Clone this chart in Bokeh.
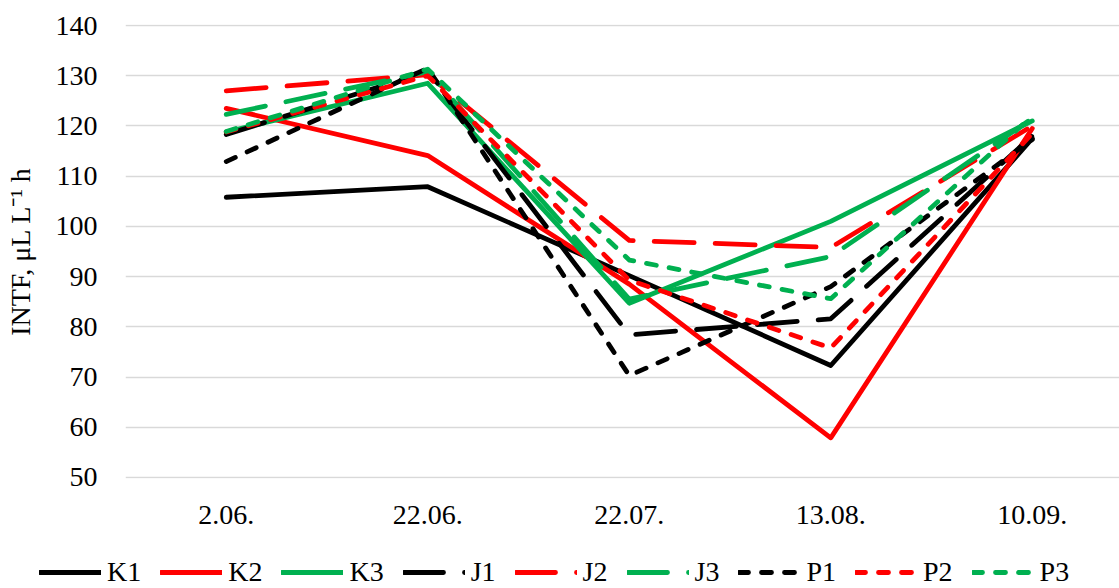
from bokeh.plotting import figure
from bokeh.models import Range1d, FixedTicker, Legend, LegendItem
from bokeh.embed import file_html
from bokeh.resources import INLINE

# ---- data ----
dates = ["2.06.", "22.06.", "22.07.", "13.08.", "10.09."]
names = ["K1", "K2", "K3", "J1", "J2", "J3", "P1", "P2", "P3"]
K1 = [105.8, 107.9, 90.2, 72.3, 117.5]
K2 = [123.5, 114.1, 88.5, 57.9, 119.5]
K3 = [118.8, 128.5, 84.7, 101.0, 121.0]
J1 = [118.3, 130.8, 78.4, 81.6, 118.0]
J2 = [127.0, 130.2, 97.2, 95.8, 120.0]
J3 = [122.3, 130.8, 85.5, 94.0, 121.5]
P1 = [112.9, 131.5, 70.3, 88.0, 117.3]
P2 = [118.8, 130.0, 89.3, 75.8, 118.5]
P3 = [118.9, 131.3, 93.3, 85.6, 122.0]
y_ticks = [50, 60, 70, 80, 90, 100, 110, 120, 130, 140]
y_label = "INTF, \u03bcL L\u207b\u00b9 h"

series_values = [K1, K2, K3, J1, J2, J3, P1, P2, P3]

# ---- styles ----
num_color = {"1": "#000000", "2": "#FF0000", "3": "#00B050"}
dash_for = {"K": "solid", "J": "40 21", "P": "10 13"}
FONT = "Liberation Serif"
FS = "28px"

x_idx = list(range(len(dates)))

# ---- main chart ----
p = figure(width=1119, height=545, output_backend="svg", toolbar_location=None,
           x_range=Range1d(-0.5, 4.433), y_range=Range1d(49.8, 140.2),
           min_border_left=125, min_border_right=0, min_border_top=24,
           min_border_bottom=67)
p.outline_line_color = None
p.background_fill_color = "white"
p.border_fill_color = "white"

p.xgrid.visible = False
p.ygrid.grid_line_color = "#d9d9d9"
p.ygrid.grid_line_width = 1.3

p.xaxis.ticker = FixedTicker(ticks=x_idx)
p.xaxis.major_label_overrides = {i: d for i, d in zip(x_idx, dates)}
p.yaxis.ticker = FixedTicker(ticks=y_ticks)
p.ygrid.ticker = FixedTicker(ticks=y_ticks)

for ax in (p.xaxis[0], p.yaxis[0]):
    ax.axis_line_color = None
    ax.major_tick_line_color = None
    ax.minor_tick_line_color = None
    ax.major_tick_out = 0
    ax.major_tick_in = 0
    ax.minor_tick_out = 0
    ax.major_label_text_font = FONT
    ax.major_label_text_font_size = FS
    ax.major_label_text_color = "#000000"

p.xaxis.major_label_standoff = 27
p.yaxis.major_label_standoff = 28
p.yaxis.axis_label = y_label
p.yaxis.axis_label_text_font = FONT
p.yaxis.axis_label_text_font_size = FS
p.yaxis.axis_label_text_font_style = "normal"
p.yaxis.axis_label_text_color = "#000000"
p.yaxis.axis_label_standoff = 17

line_styles = {}
for name, vals in zip(names, series_values):
    style = dict(line_color=num_color[name[1]], line_width=4.8,
                 line_dash=dash_for[name[0]], line_cap="round", line_join="round")
    line_styles[name] = style
    p.line(x_idx, vals, **style)

# ---- legend strip: own small figure without axes; its lines lie outside its
#      y-range, so only the legend samples are seen ----
p2 = figure(width=1119, height=43, output_backend="svg", toolbar_location=None,
            min_border=0, x_axis_location=None, y_axis_location=None,
            x_range=Range1d(-0.5, 4.433), y_range=Range1d(0, 1))
p2.outline_line_color = None
p2.grid.visible = False
p2.border_fill_color = "white"
p2.background_fill_color = "white"

items = []
for name, vals in zip(names, series_values):
    r = p2.line(x_idx, vals, **line_styles[name])
    items.append(LegendItem(label=name, renderers=[r]))

legend = Legend(items=items, orientation="horizontal", location=(39, 0),
                glyph_width=62, glyph_height=20, label_standoff=6, spacing=19,
                padding=0, margin=0, border_line_alpha=0, background_fill_alpha=0,
                label_text_font=FONT, label_text_font_size=FS,
                label_text_color="#000000")
p2.add_layout(legend, "center")

open("out.html", "w").write(file_html([p, p2], INLINE))
